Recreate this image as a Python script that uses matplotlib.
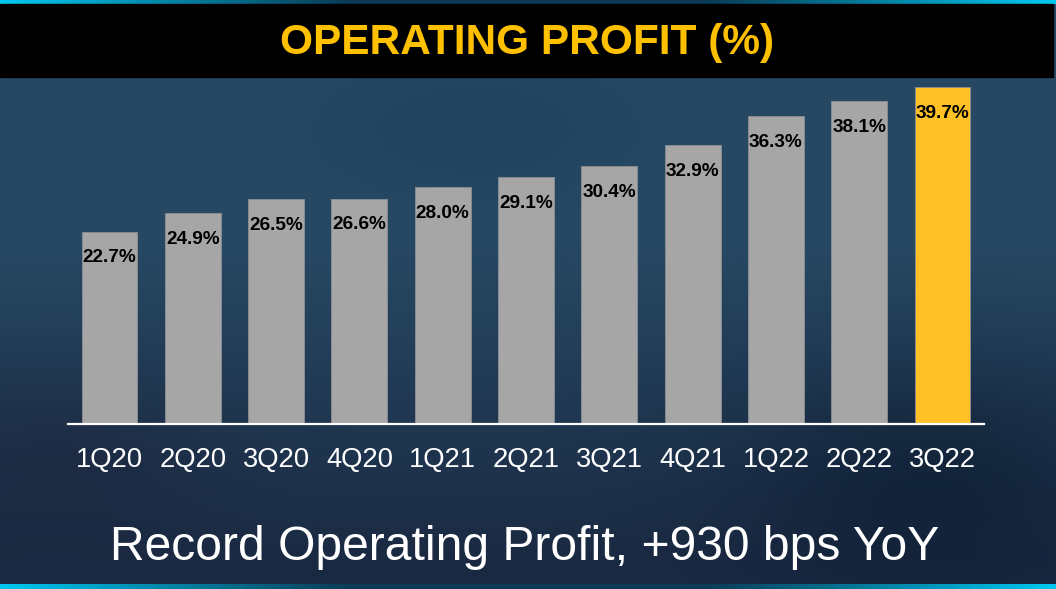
import numpy as np
import matplotlib
matplotlib.use("Agg")
from matplotlib import pyplot as plt
from matplotlib.colors import LinearSegmentedColormap

quarters = ['1Q20', '2Q20', '3Q20', '4Q20', '1Q21', '2Q21',
            '3Q21', '4Q21', '1Q22', '2Q22', '3Q22']
op_profit = [22.7, 24.9, 26.5, 26.6, 28.0, 29.1, 30.4, 32.9, 36.3, 38.1, 39.7]
title = 'OPERATING PROFIT (%)'
subtitle = 'Record Operating Profit, +930 bps YoY'

W, H = 1056, 589
fig = plt.figure(figsize=(W / 100, H / 100), dpi=100)
plt.rcParams['font.family'] = ['Liberation Sans', 'DejaVu Sans']

# background: dark blue slide gradient
bg = fig.add_axes([0, 0, 1, 1])
bg.set_axis_off()
yy, xx = np.mgrid[0:1:300j, 0:1:500j]  # yy=0 top
top = np.array([0x27, 0x49, 0x64]) / 255
bot = np.array([0x1b, 0x2a, 0x43]) / 255
t = np.clip((yy - 0.4) / 0.55, 0, 1)[..., None]
img = top * (1 - t) + bot * t
# darker patch at bottom right
d = np.exp(-(((xx - 0.88) / 0.18) ** 2 + ((yy - 0.82) / 0.2) ** 2))[..., None]
img = img * (1 - 0.45 * d) + np.array([0.02, 0.08, 0.15]) * 0.45 * d
# darker patch upper middle
d2 = np.exp(-(((xx - 0.45) / 0.15) ** 2 + ((yy - 0.22) / 0.12) ** 2))[..., None]
img = img * (1 - 0.25 * d2) + np.array([0.06, 0.2, 0.3]) * 0.25 * d2
# dark patch lower left
d3 = np.exp(-(((xx - 0.05) / 0.15) ** 2 + ((yy - 0.78) / 0.15) ** 2))[..., None]
img = img * (1 - 0.3 * d3) + np.array([0.1, 0.1, 0.18]) * 0.3 * d3
bg.imshow(img, extent=[0, W, H, 0], aspect='auto', interpolation='bilinear')

# cyan edge lines
cyan = LinearSegmentedColormap.from_list('c', ['#00c8f0', '#0a3a55', '#0a3a55', '#00c8f0'])
grad = np.linspace(0, 1, 256)[None, :]
bg.imshow(grad, cmap=cyan, extent=[0, W, 4, 0], aspect='auto')
bg.imshow(grad, cmap=cyan, extent=[0, W, H, H - 5], aspect='auto')
bg.set_xlim(0, W)
bg.set_ylim(H, 0)

# black title band
bg.add_patch(plt.Rectangle((0, 4), W - 3, 73, color='black', zorder=3))
bg.text(527, 43, title, color='#ffc000', fontsize=30.5, fontweight='bold',
        ha='center', va='center', zorder=4)
bg.text(525, 547, subtitle, color='white', fontsize=34.6,
        ha='center', va='center', zorder=4)

# chart
x = np.arange(len(quarters))
ax = fig.add_axes([67.85 / W, 165 / H, 916.3 / W, 356 / H])
ax.patch.set_alpha(0)
colors = ['#a6a6a6'] * (len(quarters) - 1) + ['#ffc125']
bars = ax.bar(x, op_profit, width=0.67, color=colors,
              edgecolor='#8c8f94', linewidth=0.6)
for xi, v in zip(x, op_profit):
    ax.annotate(f'{v:.1f}%', (xi, v), xytext=(0, -19), textcoords='offset points',
                ha='center', va='center', fontsize=13.7, fontweight='bold',
                color='black')
ax.set_xlim(-0.5, 10.5)
ax.set_ylim(0, 42)
for s in ['top', 'left', 'right']:
    ax.spines[s].set_visible(False)
ax.spines['bottom'].set_color('white')
ax.spines['bottom'].set_linewidth(1.6)
ax.set_yticks([])
ax.set_xticks(x)
ax.set_xticklabels(quarters, color='white', fontsize=19.7)
ax.tick_params(axis='x', length=0, pad=16.5)

fig.savefig('out.png', dpi=100)
